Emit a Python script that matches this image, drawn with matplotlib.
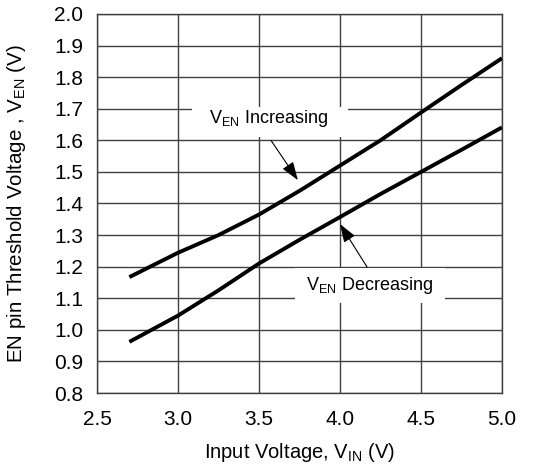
import matplotlib.pyplot as plt
from matplotlib.patches import Rectangle

plt.rcParams['font.family'] = ['Liberation Sans', 'DejaVu Sans']

# EN threshold vs input voltage
vin = [2.7, 3.0, 3.25, 3.5, 3.75, 4.0, 4.25, 4.5, 4.75, 5.0]
ven_rising = [1.167, 1.244, 1.30, 1.365, 1.44, 1.52, 1.60, 1.688, 1.775, 1.86]
ven_falling = [0.962, 1.045, 1.125, 1.21, 1.285, 1.357, 1.43, 1.50, 1.57, 1.641]

xticks = [2.5, 3.0, 3.5, 4.0, 4.5, 5.0]
yticks = [0.8, 0.9, 1.0, 1.1, 1.2, 1.3, 1.4, 1.5, 1.6, 1.7, 1.8, 1.9, 2.0]

fig = plt.figure(figsize=(5.37, 4.71), dpi=100)
ax = fig.add_axes([0.1806, 0.1656, 0.7542, 0.8047])

ax.plot(vin, ven_rising, color='black', lw=2.8, solid_capstyle='butt',
        solid_joinstyle='round', zorder=5)
ax.plot(vin, ven_falling, color='black', lw=2.8, solid_capstyle='butt',
        solid_joinstyle='round', zorder=5)

ax.set_xlim(2.5, 5.0)
ax.set_ylim(0.8, 2.0)
ax.set_xticks(xticks)
ax.set_yticks(yticks)
ax.set_xticklabels(['%.1f' % v for v in xticks])
ax.set_yticklabels(['%.1f' % v for v in yticks])
ax.tick_params(length=0, labelsize=15, colors='black')
ax.tick_params(axis='x', pad=12)
ax.tick_params(axis='y', pad=10)
ax.grid(True, color='#404040', lw=1.0, zorder=1)
ax.set_axisbelow(True)
for sp in ax.spines.values():
    sp.set_color('#404040')
    sp.set_linewidth(1.0)

# white label boxes hiding the grid
ax.add_patch(Rectangle((3.086, 1.61), 0.964, 0.097, facecolor='white',
                       edgecolor='none', zorder=2))
ax.add_patch(Rectangle((3.72, 1.085), 0.93, 0.112, facecolor='white',
                       edgecolor='none', zorder=2))

ax.text(3.56, 1.67, r'$\mathregular{V_{EN}}$ Increasing', fontsize=13,
        ha='center', va='center', zorder=3)
ax.text(4.18, 1.14, r'$\mathregular{V_{EN}}$ Decreasing', fontsize=13,
        ha='center', va='center', zorder=3)

arrow = dict(arrowstyle='-|>,head_length=0.8,head_width=0.28', color='black',
             lw=0.8, mutation_scale=14, shrinkA=0, shrinkB=0)
ax.annotate('', xy=(3.74, 1.474), xytext=(3.574, 1.60), arrowprops=arrow, zorder=4)
ax.annotate('', xy=(4.0, 1.335), xytext=(4.167, 1.199), arrowprops=arrow, zorder=4)

ax.set_xlabel(r'Input Voltage, $\mathregular{V_{IN}}$ (V)', fontsize=14.5, va='center')
ax.xaxis.set_label_coords(0.5, -0.1557)
ax.set_ylabel(r'EN pin Threshold Voltage , $\mathregular{V_{EN}}$ (V)', fontsize=14.8,
              va='center')
ax.yaxis.set_label_coords(-0.1975, 0.5)

fig.savefig('out.png', dpi=100)
